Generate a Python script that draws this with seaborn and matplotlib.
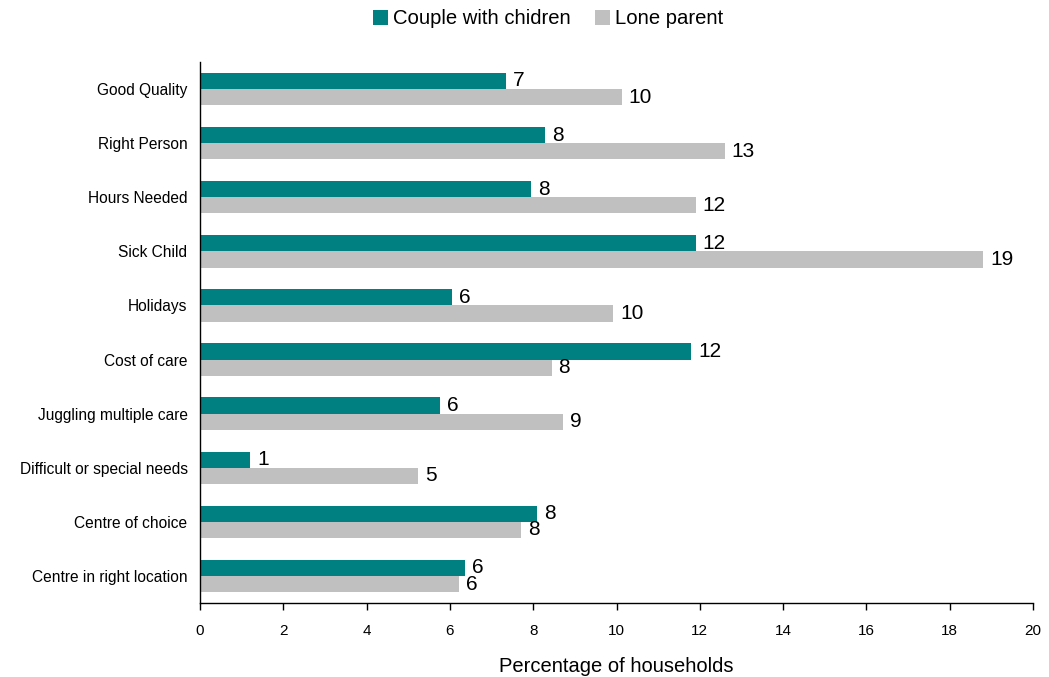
import matplotlib
matplotlib.use("Agg")
import matplotlib.pyplot as plt
import seaborn as sns
import pandas as pd

categories = ["Good Quality", "Right Person", "Hours Needed", "Sick Child", "Holidays",
              "Cost of care", "Juggling multiple care", "Difficult or special needs",
              "Centre of choice", "Centre in right location"]
couple = [7.35, 8.28, 7.95, 11.9, 6.05, 11.79, 5.77, 1.2, 8.1, 6.36]
lone = [10.13, 12.6, 11.9, 18.8, 9.92, 8.44, 8.71, 5.24, 7.71, 6.23]
series_names = ["Couple with chidren", "Lone parent"]
xticks = list(range(0, 21, 2))

df = pd.DataFrame({
    "category": categories * 2,
    "value": couple + lone,
    "series": [series_names[0]] * len(categories) + [series_names[1]] * len(categories),
})

sns.set_theme(style="white")
plt.rcParams["font.family"] = ["Liberation Sans", "DejaVu Sans"]
plt.rcParams["text.color"] = "black"
plt.rcParams["axes.labelcolor"] = "black"
plt.rcParams["xtick.color"] = "black"
plt.rcParams["ytick.color"] = "black"

fig = plt.figure(figsize=(10.49, 6.77), dpi=100)
ax = fig.add_axes([200 / 1049, 1 - 603 / 677, 833 / 1049, 541 / 677])

sns.barplot(data=df, y="category", x="value", hue="series", orient="h",
            palette=["#008080", "#C0C0C0"], width=0.6, saturation=1,
            linewidth=0, edgecolor="none", ax=ax, legend=True)

for cont in ax.containers:
    vals = [b.get_width() for b in cont]
    ax.bar_label(cont, labels=[f"{v:.0f}" for v in vals], padding=5, fontsize=15, color="black")

ax.set_xlim(0, 20)
ax.set_xticks(xticks)
ax.set_xticklabels([str(t) for t in xticks], fontsize=11)
ax.tick_params(axis="x", direction="out", length=5, width=1, color="black",
               labelcolor="black", bottom=True, pad=10)
ax.tick_params(axis="y", length=0, labelsize=11.2, pad=9, labelcolor="black")
ax.set_ylabel("")
ax.set_xlabel("Percentage of households", fontsize=14.5, labelpad=14, color="black")

for s in ["top", "right"]:
    ax.spines[s].set_visible(False)
for s in ["left", "bottom"]:
    ax.spines[s].set_color("black")
    ax.spines[s].set_linewidth(1)

handles, labels = ax.get_legend_handles_labels()
leg = ax.legend(handles, labels, loc="center", bbox_to_anchor=(548 / 1049, 1 - 19 / 677),
                bbox_transform=fig.transFigure,
                ncol=2, frameon=False, fontsize=14.6, handlelength=0.75, handleheight=0.75,
                handletextpad=0.25, columnspacing=1.2, borderaxespad=0)
for t in leg.get_texts():
    t.set_color("black")

fig.savefig("out.png", dpi=100)
